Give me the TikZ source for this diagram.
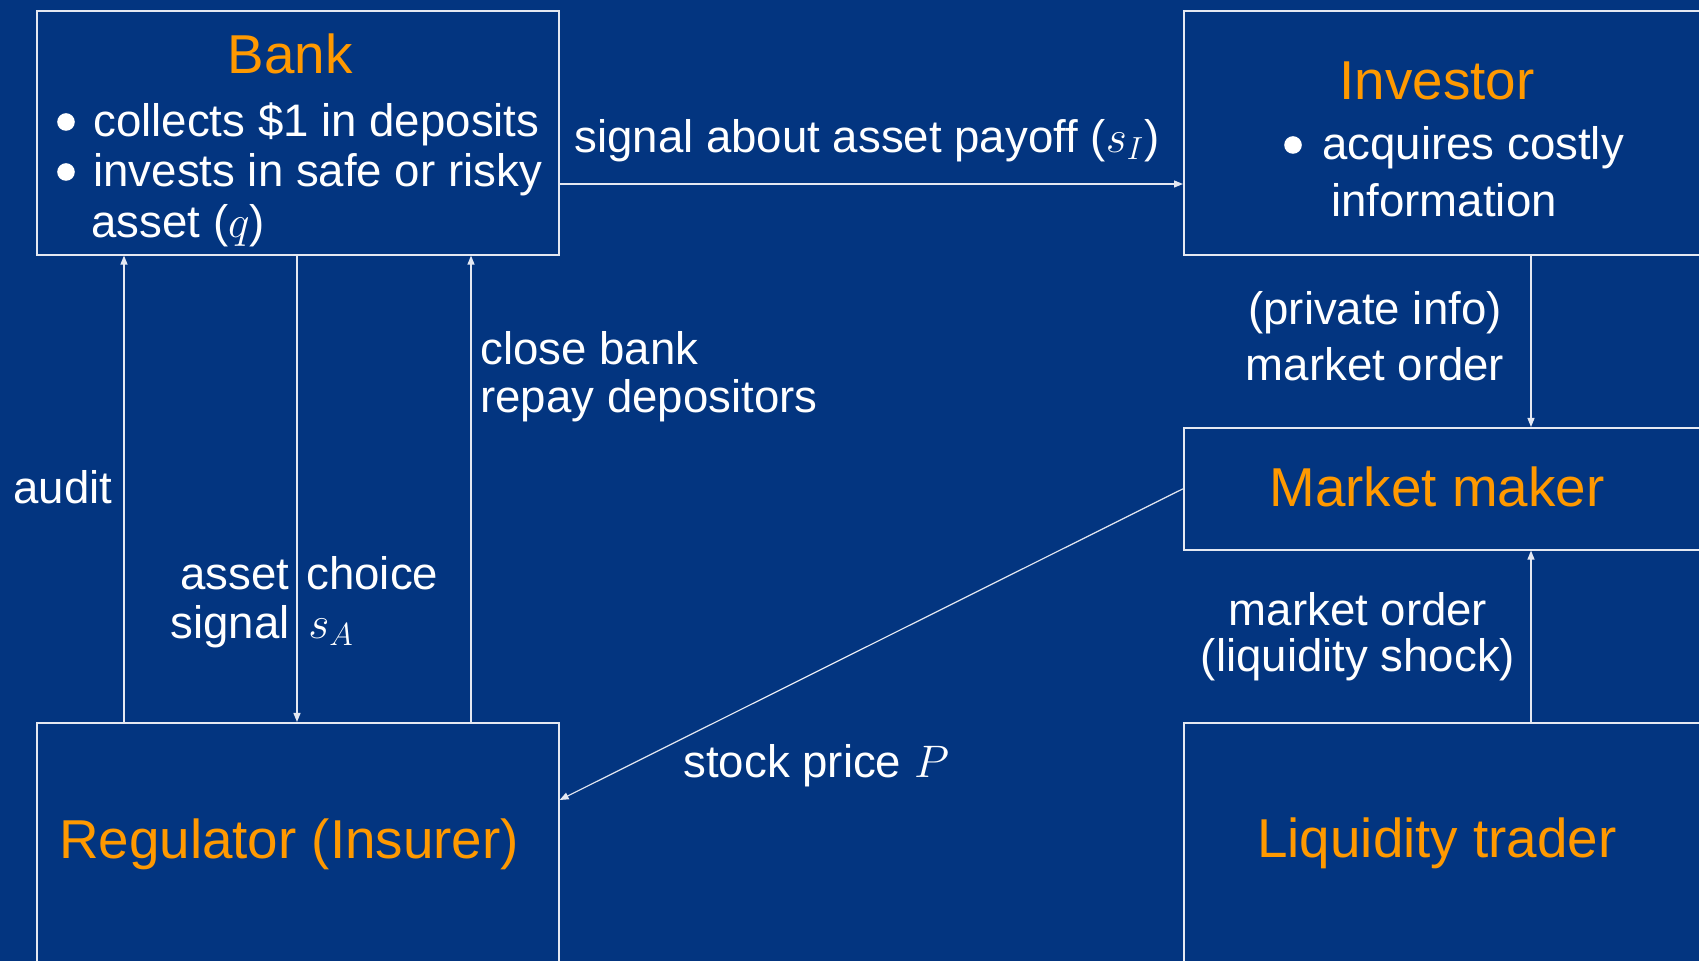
\RequirePackage{fix-cm}
\documentclass[tikz,border=0pt]{standalone}
\usepackage{fontspec}
\setmainfont{Liberation Sans}
\usetikzlibrary{arrows.meta}

\definecolor{slidebg}{RGB}{3,53,128}
\definecolor{titleorange}{RGB}{255,153,0}
\definecolor{rulecol}{RGB}{228,232,242}

\tikzset{
  box/.style={draw=rulecol, line width=0.8pt, rectangle, inner sep=0pt, anchor=north west},
  ttl/.style={text=titleorange, font=\fontsize{27.4}{30}\selectfont, anchor=base, inner sep=0pt},
  txt/.style={text=white, font=\fontsize{22.8}{25.3}\selectfont, inner sep=0pt,
              text height=17pt, text depth=5pt},
  flow/.style={draw=rulecol, line width=0.6pt, -{Triangle[length=4.5pt,width=3.5pt]}},
  itemdot/.style={fill=white},
}

\begin{document}
\begin{tikzpicture}[x=0.5pt,y=-0.5pt]
\useasboundingbox (0,0) rectangle (1699,961);
\clip (0,0) rectangle (1699,961);
\fill[slidebg] (0,0) rectangle (1699,961);

% agents
\node[box, minimum width=261pt, minimum height=122pt] (bank) at (36,10) {};
\node[box, minimum width=270pt, minimum height=122pt] (inv)  at (1183,10) {};
\node[box, minimum width=270pt, minimum height=61pt]  (mm)   at (1183,427) {};
\node[box, minimum width=261pt, minimum height=130pt] (reg)  at (36,722) {};
\node[box, minimum width=270pt, minimum height=130pt] (liq)  at (1183,722) {};

% box contents
\node[ttl] (bankT) at (290,74) {Bank};
\node[txt, anchor=base west] (b1) at (93,137) {collects \$1 in deposits};
\node[txt, anchor=base west] (b2) at (93,187) {invests in safe or risky};
\node[txt, anchor=base west] (b3) at (91,238) {asset ($q$)};

\node[ttl] (invT) at (1437,100) {Investor};
\node[txt, anchor=base west] (i1) at (1322,160) {acquires costly};
\node[txt, anchor=base] (i2) at (1444,217) {information};

% list bullets
\fill[itemdot] (b1.base west) ++(-27,-15) circle[radius=4.4pt];
\fill[itemdot] (b2.base west) ++(-27,-15) circle[radius=4.4pt];
\fill[itemdot] (i1.base west) ++(-29,-15) circle[radius=4.4pt];

\node[ttl] (mmT)  at (1437,507) {Market maker};
\node[ttl] (liqT) at (1437,858) {Liquidity trader};
\node[ttl] (regT) at (289,859) {Regulator (Insurer)};

% connector positions
\coordinate (xa) at (124,0);
\coordinate (xc) at (297,0);
\coordinate (xb) at (471,0);
\coordinate (xr) at (1531,0);
\coordinate (yh) at (0,184);
\coordinate (yp) at (0,800);

% connectors
\draw[flow] (bank.east |- yh) -- (inv.west |- yh);
\draw[flow] (inv.south -| xr) -- (mm.north -| xr);
\draw[flow] (liq.north -| xr) -- (mm.south -| xr);
\draw[flow] (mm.west) -- (reg.east |- yp);
\draw[flow] (reg.north -| xa) -- (bank.south -| xa);
\draw[flow] (bank.south -| xc) -- (reg.north -| xc);
\draw[flow] (reg.north -| xb) -- (bank.south -| xb);

% connector labels
\node[txt, anchor=base west] (sig) at (574,153) {signal about asset payoff ($s_I$)};
\node[txt, anchor=base] (po1) at (1375,325) {(private info)};
\node[txt, anchor=base] (po2) at (1375,381) {market order};
\node[txt, anchor=base] (lo1) at (1358,626) {market order};
\node[txt, anchor=base] (lo2) at (1358,672) {(liquidity shock)};
\node[txt, anchor=base west] (aud) at (13,504) {audit};
\node[txt, anchor=base east] (ac1) at (290,590) {asset};
\node[txt, anchor=base west] (ac2) at (306,590) {choice};
\node[txt, anchor=base east] (ac3) at (290,639) {signal};
\node[txt, anchor=base west] (ac4) at (308,639) {$s_A$};
\node[txt, anchor=base west] (cb1) at (480,365) {close bank};
\node[txt, anchor=base west] (cb2) at (480,413) {repay depositors};
\node[txt, anchor=base west] (sp) at (683,778) {stock price $P$};
\end{tikzpicture}
\end{document}
